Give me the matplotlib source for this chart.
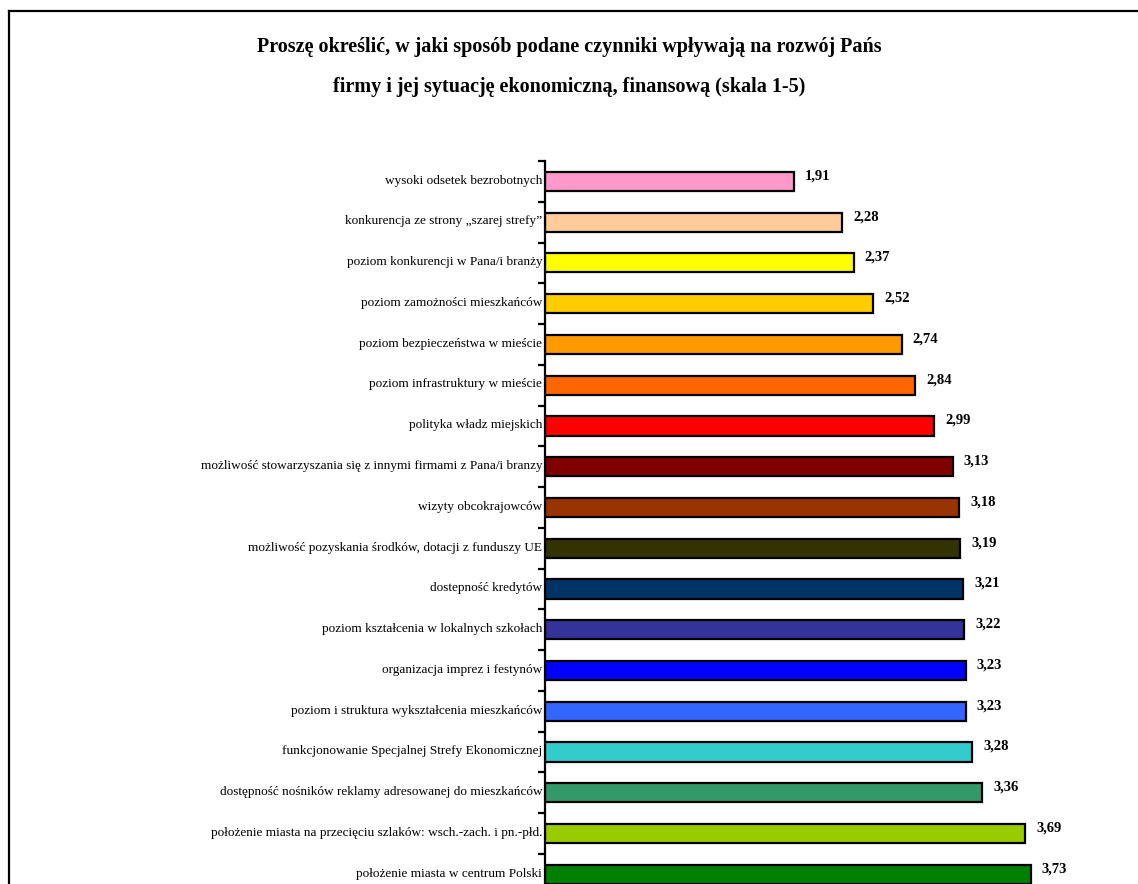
import matplotlib.pyplot as plt
from matplotlib.lines import Line2D

plt.rcParams['font.family'] = ['Liberation Serif', 'DejaVu Serif']

# data, top to bottom as in the chart
categories = [
    "wysoki odsetek bezrobotnych",
    "konkurencja ze strony \u201eszarej strefy\u201d",
    "poziom konkurencji w Pana/i branży",
    "poziom zamożności mieszkańców",
    "poziom bezpieczeństwa w mieście",
    "poziom infrastruktury w mieście",
    "polityka władz miejskich",
    "możliwość stowarzyszania się z innymi firmami z Pana/i branzy",
    "wizyty obcokrajowców",
    "możliwość pozyskania środków, dotacji z funduszy UE",
    "dostepność kredytów",
    "poziom kształcenia w lokalnych szkołach",
    "organizacja imprez i festynów",
    "poziom i struktura wykształcenia mieszkańców",
    "funkcjonowanie Specjalnej Strefy Ekonomicznej",
    "dostępność nośników reklamy adresowanej do mieszkańców",
    "położenie miasta na przecięciu szlaków: wsch.-zach. i pn.-płd.",
    "położenie miasta w centrum Polski",
]
values = [1.91, 2.28, 2.37, 2.52, 2.74, 2.84, 2.99, 3.13, 3.18, 3.19,
          3.21, 3.22, 3.23, 3.23, 3.28, 3.36, 3.69, 3.73]
colors = ["#FF99CC", "#FFCC99", "#FFFF00", "#FFCC00", "#FF9900", "#FF6600",
          "#FF0000", "#800000", "#993300", "#333300", "#003366", "#333399",
          "#0000FF", "#3366FF", "#33CCCC", "#339966", "#99CC00", "#008000"]

title = ("Proszę określić, w jaki sposób podane czynniki wpływają na rozwój Pańs\n"
         "firmy i jej sytuację ekonomiczną, finansową (skala 1-5)")

W, H = 1138, 884
fig = plt.figure(figsize=(W / 100, H / 100), dpi=100)

# frame of the chart area (right and bottom edges are outside the picture)
fig.add_artist(Line2D([9 / W, 9 / W], [0, 1 - 11 / H], color="black", lw=1.6))
fig.add_artist(Line2D([9 / W, 1], [1 - 11 / H, 1 - 11 / H], color="black", lw=1.6))

fig.text(0.5, 1 - 67 / H, title, ha="center", va="center", fontsize=14.5,
         fontweight="bold", linespacing=2.3)

step = 40.76
n = len(categories)
ax = fig.add_axes([545 / W, (H - 161 - n * step) / H, 520.8 / W, n * step / H])
ax.set_xlim(0, 4)
ax.set_ylim(n, 0)

ypos = [i + 0.5 for i in range(n)]
ax.barh(ypos, values, height=0.47, color=colors, edgecolor="black", linewidth=1.6)

for y, v in zip(ypos, values):
    ax.annotate(f"{v:.2f}".replace(".", ","), (v, y), xytext=(8, 4),
                textcoords="offset points", ha="left", va="center",
                fontsize=10.5, fontweight="bold")

for y, lab in zip(ypos, categories):
    ax.annotate(lab, (0, y), xytext=(-2, 0.5), textcoords="offset points",
                ha="right", va="center", fontsize=9.5, annotation_clip=False)

for s in ["top", "right", "bottom"]:
    ax.spines[s].set_visible(False)
ax.spines["left"].set_linewidth(1.6)
ax.set_xticks([])
ax.set_yticks(range(n + 1))
ax.set_yticklabels([])
ax.tick_params(axis="y", length=5, width=1.6, direction="out")

fig.savefig("out.png", dpi=100)
